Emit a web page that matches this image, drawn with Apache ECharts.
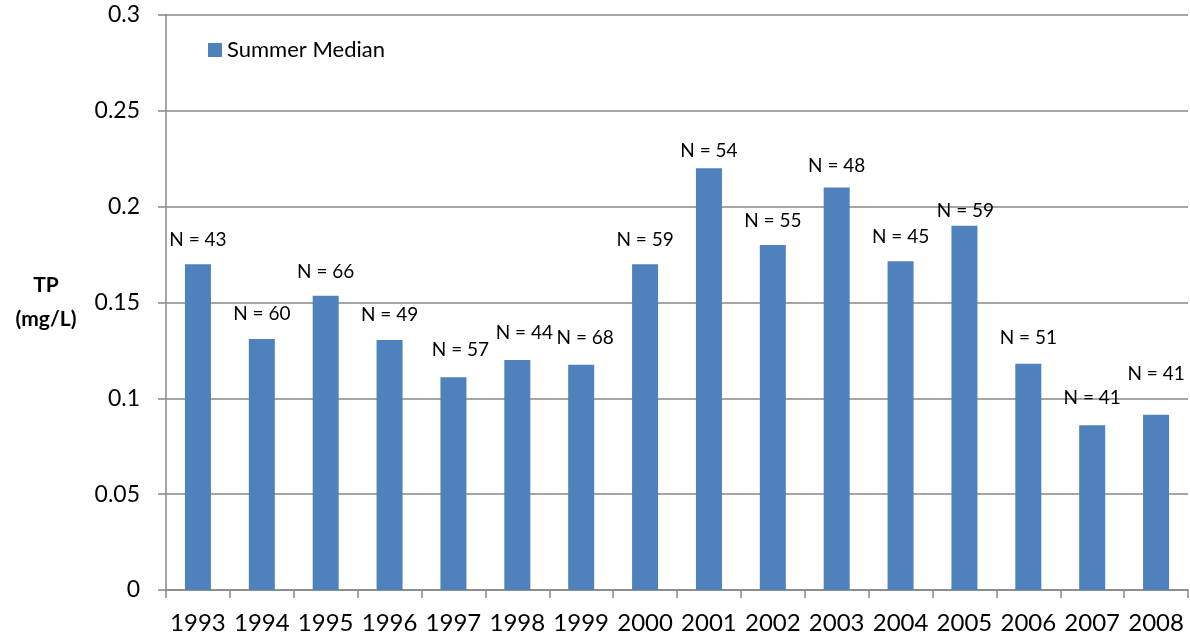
<!DOCTYPE html>
<html>
<head>
<meta charset="utf-8">
<script src="https://cdn.jsdelivr.net/npm/echarts@6/dist/echarts.min.js"></script>
<style>
  html, body { margin: 0; padding: 0; background: #fff; }
  #chart { width: 1190px; height: 638px; }
</style>
</head>
<body>
<div id="chart"></div>
<script>
// data
const years = ['1993', '1994', '1995', '1996', '1997', '1998', '1999', '2000',
  '2001', '2002', '2003', '2004', '2005', '2006', '2007', '2008'];
const summerMedian = [0.170, 0.131, 0.1535, 0.1305, 0.111, 0.120, 0.1175, 0.170,
  0.220, 0.180, 0.210, 0.1715, 0.190, 0.118, 0.086, 0.0915];
const sampleN = [43, 60, 66, 49, 57, 44, 68, 59, 54, 55, 48, 45, 59, 51, 41, 41];

// label placement (the N text boxes sit a bit unevenly in the original)
const labelLift = [24, 25, 24, 25, 27, 27, 27, 24, 17, 24, 22, 24, 15, 26, 27, 41];
const labelShift = [0, 0, 0, 0, 7, 7, 4, 0, 0, 0, 0, 0, 1, 0, 0, 0];

const FONT = 'Lato';
const gray = '#878787';

const chart = echarts.init(document.getElementById('chart'));

const barData = summerMedian.map(function (v, i) {
  return {
    value: v,
    label: {
      distance: labelLift[i] - 10,
      offset: [labelShift[i], 0],
      formatter: 'N = ' + sampleN[i]
    }
  };
});

chart.setOption({
  animation: false,
  textStyle: { fontFamily: FONT },
  grid: {
    left: 166, right: 2, top: 15, bottom: 48,
    containLabel: false,
    outerBoundsMode: 'none'
  },
  legend: {
    left: 203, top: 34,
    icon: 'rect',
    itemWidth: 14, itemHeight: 14,
    textStyle: { fontFamily: FONT, fontSize: 22, color: '#000' },
    data: ['Summer Median']
  },
  xAxis: {
    type: 'category',
    data: years,
    axisLine: { lineStyle: { color: gray, width: 1.5 } },
    axisTick: { show: true, length: 8, lineStyle: { color: gray, width: 1.5 } },
    axisLabel: { fontFamily: FONT, fontSize: 24, color: '#000', margin: 21, interval: 0 }
  },
  yAxis: {
    type: 'value',
    min: 0, max: 0.3, interval: 0.05,
    name: 'TP\n(mg/L)',
    nameLocation: 'middle',
    nameRotate: 0,
    nameGap: 120,
    nameTextStyle: {
      fontFamily: FONT, fontSize: 21, fontWeight: 'bold', color: '#000',
      lineHeight: 34, align: 'center', padding: [6, 0, 0, 0]
    },
    axisLine: { show: true, lineStyle: { color: gray, width: 1.5 } },
    axisTick: { show: true, length: 8, lineStyle: { color: gray, width: 1.5 } },
    axisLabel: {
      fontFamily: FONT, fontSize: 23, color: '#000', margin: 26,
      formatter: function (v) { return String(+v.toFixed(2)); }
    },
    splitLine: { lineStyle: { color: gray, width: 1.5 } }
  },
  series: [{
    name: 'Summer Median',
    type: 'bar',
    barWidth: 26,
    itemStyle: { color: '#4F81BD' },
    label: {
      show: true,
      position: 'top',
      fontFamily: FONT,
      fontSize: 19,
      lineHeight: 20,
      color: '#000'
    },
    data: barData
  }]
});
</script>
</body>
</html>
